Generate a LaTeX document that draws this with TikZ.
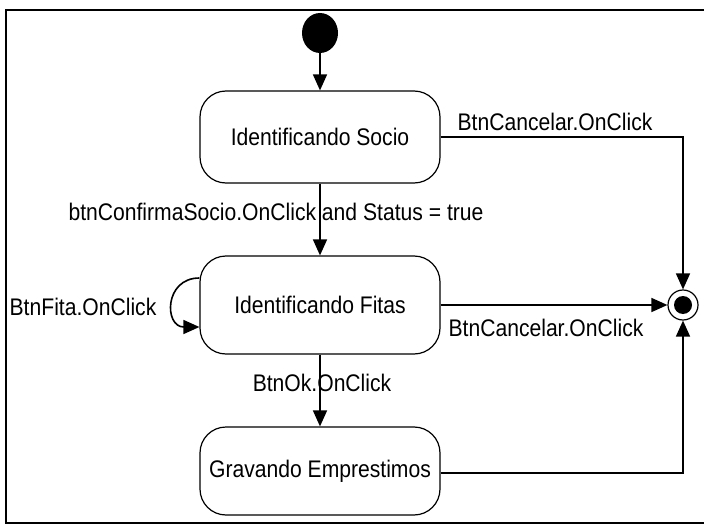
\documentclass[tikz,border=0pt]{standalone}
\usepackage{fontspec}
\setmainfont{Liberation Sans}[FakeStretch=0.88]
\usetikzlibrary{arrows.meta,shapes.geometric}

\tikzset{
  estado/.style={draw, line width=1.2pt, rounded corners=26pt, minimum width=240pt, minimum height=92pt, inner sep=0pt},
  trans/.style={line width=1.6pt, -{Triangle[length=16pt,width=14pt]}},
  rotulo/.style={inner sep=0pt}
}

\begin{document}
\begin{tikzpicture}[x=1pt,y=-1pt,font=\fontsize{24}{28}\selectfont]
\useasboundingbox (0,0) rectangle (705,527);
\draw[line width=1.6pt] (704,10) -- (6,10) -- (6,523) -- (704,523);

\node[ellipse, fill, minimum width=36pt, minimum height=40pt, inner sep=0pt] (inicio) at (320,33) {};
\node[estado] (socio) at (320,137) {Identificando Socio};
\node[estado, minimum height=98pt] (fitas) at (320,305) {Identificando Fitas};
\node[estado, minimum height=88pt] (grava) at (320,471) {Gravando Emprestimos};
\node[circle, draw, line width=1.2pt, minimum size=30pt, inner sep=0pt] (fim) at (683,305) {};
\node[circle, fill, minimum size=18pt, inner sep=0pt] at (fim) {};

\draw[trans] (inicio) -- (socio);
\draw[trans] (socio) -- (fitas);
\draw[trans] (fitas) -- (grava);
\draw[trans] (socio.east) -| (fim.north);
\draw[trans] (fitas.east) -- (fim.west);
\draw[trans] ([yshift=-2pt]grava.east) -| (fim.south);
\draw[trans] ([yshift=27pt]fitas.west) .. controls (164,278) and (164,327) .. ([yshift=-22pt]fitas.west);

\node[rotulo] at (555,122) {BtnCancelar.OnClick};
\node[rotulo] at (276,212) {btnConfirmaSocio.OnClick and Status = true};
\node[rotulo] at (83,307) {BtnFita.OnClick};
\node[rotulo] at (546,328) {BtnCancelar.OnClick};
\node[rotulo] at (322,383) {BtnOk.OnClick};
\end{tikzpicture}
\end{document}
